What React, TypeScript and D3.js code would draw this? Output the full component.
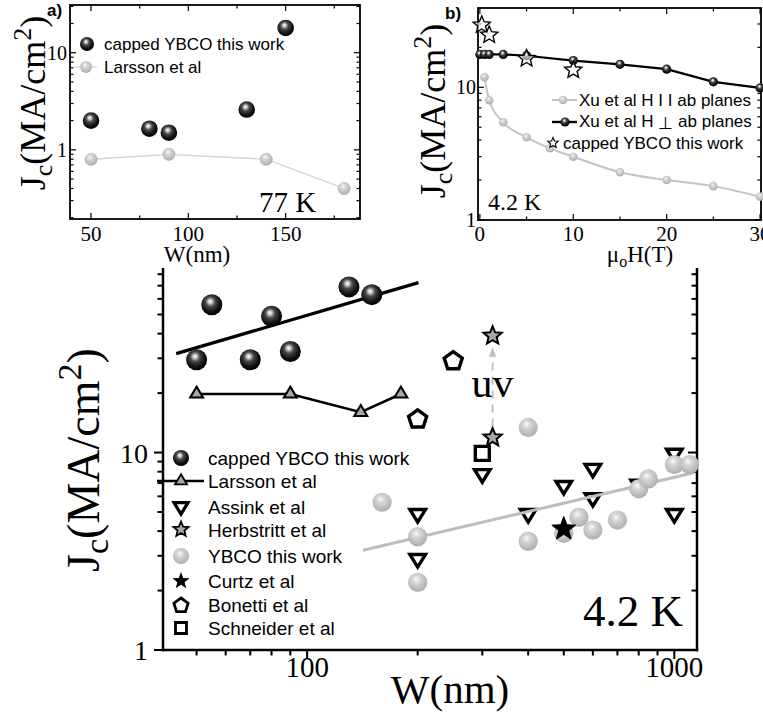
import React from 'react';
import * as d3 from 'd3';

// ---------- Panel a (77 K) ----------
const aCappedW = [50, 80, 90, 130, 150];
const aCappedJc = [2.0, 1.65, 1.5, 2.6, 18];
const aLarssonW = [50, 90, 140, 180];
const aLarssonJc = [0.8, 0.9, 0.8, 0.4];
const aXTicks = [50, 75, 100, 125, 150, 175];
const aXLabels = [50, 100, 150];

// ---------- Panel b (4.2 K, field) ----------
const bParH = [0.5, 1, 2.5, 5, 7.5, 10, 15, 20, 25, 30];
const bParJc = [11.9, 8.0, 5.45, 4.2, 3.47, 3.0, 2.29, 2.0, 1.8, 1.5];
const bPerpH = [0, 0.5, 1, 2.5, 5, 10, 15, 20, 25, 30];
const bPerpJc = [17.7, 17.7, 17.7, 17.7, 17.3, 15.9, 14.9, 13.7, 11.0, 9.9];
const bStarH = [0.2, 1, 5, 10];
const bStarJc = [29.5, 24.8, 16.5, 13.5];
const bXTicks = [0, 5, 10, 15, 20, 25, 30];
const bXLabels = [0, 10, 20, 30];

// ---------- Main panel (4.2 K) ----------
const cappedW = [50, 55, 70, 80, 90, 130, 150];
const cappedJc = [29.5, 56, 29.5, 49, 32.5, 69, 63];
const cappedFitW = [44, 201];
const cappedFitJc = [31.7, 72.5];
const larssonW = [50, 90, 140, 180];
const larssonJc = [19.8, 19.8, 16, 19.8];
const assinkW = [200, 200, 300, 400, 500, 600, 600, 800, 1000, 1000];
const assinkJc = [4.9, 2.9, 7.8, 4.9, 6.8, 8.3, 5.9, 6.9, 9.9, 4.9];
const herbW = [320, 320];
const herbJc = [11.9, 39];
const ybcoW = [160, 200, 200, 400, 400, 500, 550, 600, 700, 800, 850, 1000, 1100];
const ybcoJc = [5.6, 3.75, 2.2, 13.4, 3.55, 3.9, 4.7, 4.05, 4.55, 6.55, 7.35, 8.7, 8.7];
const ybcoFitW = [142, 1130];
const ybcoFitJc = [3.2, 7.9];
const curtzW = [500];
const curtzJc = [4.1];
const bonettiW = [200, 250];
const bonettiJc = [14.9, 29.4];
const schneiderW = [300];
const schneiderJc = [9.9];
const mainXLabels = [100, 1000];
const mainYLabels = [1, 10];

const legendMain = [
  'capped YBCO this work',
  'Larsson et al',
  'Assink et al',
  'Herbstritt et al',
  'YBCO this work',
  'Curtz et al',
  'Bonetti et al',
  'Schneider et al',
];

const SERIF = "'Liberation Serif','Times New Roman',serif";
const SANS = "'Liberation Sans',Arial,sans-serif";

function logTicks(lo: number, hi: number) {
  const out: { v: number; major: boolean }[] = [];
  for (let e = Math.floor(Math.log10(lo)) - 1; e <= Math.ceil(Math.log10(hi)); e++) {
    for (let m = 1; m <= 9; m++) {
      const v = +(m * Math.pow(10, e)).toPrecision(6);
      if (v >= lo * 0.999 && v <= hi * 1.001) out.push({ v, major: m === 1 });
    }
  }
  return out;
}

function starPath(R: number, ratio = 0.42) {
  const pts: string[] = [];
  for (let i = 0; i < 10; i++) {
    const r = i % 2 === 0 ? R : R * ratio;
    const a = -Math.PI / 2 + (i * Math.PI) / 5;
    pts.push(`${(r * Math.cos(a)).toFixed(2)},${(r * Math.sin(a)).toFixed(2)}`);
  }
  return 'M' + pts.join('L') + 'Z';
}
function polyPath(n: number, R: number) {
  const pts: string[] = [];
  for (let i = 0; i < n; i++) {
    const a = -Math.PI / 2 + (i * 2 * Math.PI) / n;
    pts.push(`${(R * Math.cos(a)).toFixed(2)},${(R * Math.sin(a)).toFixed(2)}`);
  }
  return 'M' + pts.join('L') + 'Z';
}
function triPath(w: number, h: number, down = false) {
  const s = down ? -1 : 1;
  return `M0,${(-s * h * 2) / 3}L${w / 2},${(s * h) / 3}L${-w / 2},${(s * h) / 3}Z`;
}
function sqPath(a: number) {
  return `M${-a / 2},${-a / 2}h${a}v${a}h${-a}Z`;
}

const Sphere = ({ x, y, r, gray }: { x: number; y: number; r: number; gray?: boolean }) => (
  <circle cx={x} cy={y} r={r} fill={gray ? 'url(#sphGray)' : 'url(#sphBlack)'} />
);

// ---------- Panel A ----------
function PanelA() {
  const L = 70, R = 360, T = 5, B = 219;
  const x = d3.scaleLinear().domain([39.2, 188.2]).range([L, R]);
  const y = d3.scaleLog().domain([0.194, 31]).range([B, T]);
  const yt = logTicks(0.194, 31);
  const line = d3.line<number>().x((_, i) => x(aLarssonW[i])).y((d) => y(d));
  return (
    <g>
      <rect x={L} y={T} width={R - L} height={B - T} fill="none" stroke="#000" strokeWidth={1.8} />
      {yt.map((t, i) => {
        const len = t.major ? 6 : 3.5;
        return (
          <g key={i}>
            <line x1={L} x2={L + len} y1={y(t.v)} y2={y(t.v)} stroke="#000" strokeWidth={1.2} />
            <line x1={R} x2={R - len} y1={y(t.v)} y2={y(t.v)} stroke="#000" strokeWidth={1.2} />
          </g>
        );
      })}
      {aXTicks.map((v, i) => {
        const len = v % 50 === 0 ? 6 : 3.5;
        return (
          <g key={i}>
            <line x1={x(v)} x2={x(v)} y1={B} y2={B - len} stroke="#000" strokeWidth={1.2} />
            <line x1={x(v)} x2={x(v)} y1={T} y2={T + len} stroke="#000" strokeWidth={1.2} />
          </g>
        );
      })}
      {aXLabels.map((v) => (
        <text key={v} x={x(v)} y={241} fontFamily={SERIF} fontSize={21} textAnchor="middle">{v}</text>
      ))}
      {[1, 10].map((v) => (
        <text key={v} x={67} y={y(v) + 7} fontFamily={SERIF} fontSize={20} textAnchor="end">{v}</text>
      ))}
      <path d={line(aLarssonJc) || ''} fill="none" stroke="#d4d4d4" strokeWidth={1.3} />
      {aLarssonW.map((w, i) => (
        <Sphere key={i} x={x(w)} y={y(aLarssonJc[i])} r={6.5} gray />
      ))}
      {aCappedW.map((w, i) => (
        <Sphere key={i} x={x(w)} y={y(aCappedJc[i])} r={8.3} />
      ))}
      {/* legend */}
      <Sphere x={87} y={44} r={7} />
      <text x={104} y={50} fontFamily={SANS} fontSize={17}>capped YBCO this work</text>
      <line x1={75} x2={97} y1={67} y2={67} stroke="#d4d4d4" strokeWidth={1.3} />
      <Sphere x={86} y={67} r={6} gray />
      <text x={104} y={73} fontFamily={SANS} fontSize={17}>Larsson et al</text>
      <text x={259} y={212} fontFamily={SERIF} fontSize={29}>77 K</text>
      <text x={47} y={16} fontFamily={SANS} fontSize={17} fontWeight="bold">a)</text>
      <text x={197} y={262} fontFamily={SERIF} fontSize={23} textAnchor="middle">W(nm)</text>
      <text transform="translate(45,103) rotate(-90)" fontFamily={SERIF} fontSize={36} textAnchor="middle">
        J<tspan fontSize={26} dy={7}>c</tspan>
        <tspan dy={-7}>(MA/cm</tspan>
        <tspan fontSize={26} dy={-14}>2</tspan>
        <tspan dy={14}>)</tspan>
      </text>
    </g>
  );
}

// ---------- Panel B ----------
function PanelB() {
  const L = 478, R = 761, T = 8, B = 220;
  const x = d3.scaleLinear().domain([-0.2, 30.1]).range([L, R]);
  const y = d3.scaleLog().domain([1, 39.6]).range([B, T]);
  const yt = logTicks(1, 39.6);
  const grayLine = d3
    .line<number>()
    .x((_, i) => x(bParH[i]))
    .y((d) => y(d))
    .curve(d3.curveMonotoneX);
  const blackLine = d3
    .line<number>()
    .x((_, i) => x(bPerpH[i]))
    .y((d) => y(d));
  return (
    <g>
      <rect x={L} y={T} width={R - L} height={B - T} fill="none" stroke="#000" strokeWidth={1.8} />
      {yt.map((t, i) => {
        const len = t.major ? 6 : 3.5;
        return (
          <g key={i}>
            <line x1={L} x2={L + len} y1={y(t.v)} y2={y(t.v)} stroke="#000" strokeWidth={1.2} />
            <line x1={R} x2={R - len} y1={y(t.v)} y2={y(t.v)} stroke="#000" strokeWidth={1.2} />
          </g>
        );
      })}
      {bXTicks.map((v, i) => {
        const len = v % 10 === 0 ? 6 : 3.5;
        return (
          <g key={i}>
            <line x1={x(v)} x2={x(v)} y1={B} y2={B - len} stroke="#000" strokeWidth={1.2} />
            <line x1={x(v)} x2={x(v)} y1={T} y2={T + len} stroke="#000" strokeWidth={1.2} />
          </g>
        );
      })}
      {bXLabels.map((v) => (
        <text key={v} x={x(v)} y={241} fontFamily={SERIF} fontSize={21} textAnchor="middle">{v}</text>
      ))}
      {[1, 10].map((v) => (
        <text key={v} x={476} y={y(v) + 7} fontFamily={SERIF} fontSize={20} textAnchor="end">{v}</text>
      ))}
      <path d={grayLine(bParJc) || ''} fill="none" stroke="#c4c4c4" strokeWidth={2} />
      {bParH.map((h, i) => (
        <Sphere key={i} x={x(h)} y={y(bParJc[i])} r={4.3} gray />
      ))}
      <path d={blackLine(bPerpJc) || ''} fill="none" stroke="#000" strokeWidth={2.2} />
      {bPerpH.map((h, i) => (
        <Sphere key={i} x={x(h)} y={y(bPerpJc[i])} r={4.6} />
      ))}
      {bStarH.map((h, i) => (
        <path key={i} d={starPath(9, 0.45)} transform={`translate(${x(h)},${y(bStarJc[i])})`} fill="#fff" fillOpacity={0.6} stroke="#000" strokeWidth={1.4} />
      ))}
      {/* legend */}
      <line x1={552} x2={577} y1={100} y2={100} stroke="#c4c4c4" strokeWidth={2} />
      <Sphere x={563} y={100} r={4.3} gray />
      <text x={579} y={106} fontFamily={SANS} fontSize={17}>Xu et al  H I I ab planes</text>
      <line x1={552} x2={577} y1={122} y2={122} stroke="#000" strokeWidth={2.4} />
      <Sphere x={565} y={122} r={4.6} />
      <text x={579} y={127} fontFamily={SANS} fontSize={17}>
        Xu et al H <tspan dy={2}>⊥</tspan><tspan dy={-2}> ab planes</tspan>
      </text>
      <path d={starPath(5.5, 0.45)} transform="translate(553,143)" fill="#fff" stroke="#000" strokeWidth={1.1} />
      <text x={563} y={149} fontFamily={SANS} fontSize={17}>capped YBCO this work</text>
      <text x={488} y={210} fontFamily={SERIF} fontSize={24}>4.2 K</text>
      <text x={445} y={19} fontFamily={SANS} fontSize={17} fontWeight="bold">b)</text>
      <text x={640} y={262} fontFamily={SERIF} fontSize={23} textAnchor="middle">
        μ<tspan fontSize={16} dy={5}>o</tspan>
        <tspan dy={-5}>H(T)</tspan>
      </text>
      <text transform="translate(445,111) rotate(-90)" fontFamily={SERIF} fontSize={36} textAnchor="middle">
        J<tspan fontSize={26} dy={7}>c</tspan>
        <tspan dy={-7}>(MA/cm</tspan>
        <tspan fontSize={26} dy={-14}>2</tspan>
        <tspan dy={14}>)</tspan>
      </text>
    </g>
  );
}

// ---------- Main ----------
function MainPanel() {
  const L = 163, R = 697, T = 268, B = 650;
  const x = d3.scaleLog().domain([40.5, 1153]).range([L, R]);
  const y = d3.scaleLog().domain([1, 86]).range([B, T]);
  const yt = logTicks(1, 86);
  const xt = logTicks(40.5, 1153);
  const mk = (ws: number[]) => d3.line<number>().x((_, i) => x(ws[i])).y((d) => y(d));
  const sw = 3.2;
  const herbX = x(herbW[0]);
  const yLow = y(herbJc[0]);
  const yHigh = y(herbJc[1]);
  const legY = [458, 481, 506.5, 529.5, 556, 581, 604.5, 628];
  const lx = 181;
  return (
    <g>
      {/* axes */}
      <line x1={L} x2={L} y1={T} y2={B + 1.2} stroke="#000" strokeWidth={2.5} />
      <line x1={R} x2={R} y1={T} y2={B + 1.2} stroke="#000" strokeWidth={2.5} />
      <line x1={L - 1.2} x2={R + 1.2} y1={B} y2={B} stroke="#000" strokeWidth={2.5} />
      {yt.map((t, i) => {
        const len = t.major ? 9 : 5.5;
        return (
          <g key={i}>
            <line x1={L - len} x2={L} y1={y(t.v)} y2={y(t.v)} stroke="#000" strokeWidth={2} />
            <line x1={R - len} x2={R} y1={y(t.v)} y2={y(t.v)} stroke="#000" strokeWidth={2} />
          </g>
        );
      })}
      {xt
        .filter((t) => x(t.v) > L + 2)
        .map((t, i) => {
          const len = t.major ? 9 : 5.5;
          return <line key={i} x1={x(t.v)} x2={x(t.v)} y1={B} y2={B + len} stroke="#000" strokeWidth={2} />;
        })}
      {mainXLabels.map((v) => (
        <text key={v} x={x(v)} y={677} fontFamily={SERIF} fontSize={29} textAnchor="middle">{v}</text>
      ))}
      {mainYLabels.map((v) => (
        <text key={v} x={148} y={y(v) + 10} fontFamily={SERIF} fontSize={28} textAnchor="end">{v}</text>
      ))}

      {/* capped YBCO fit + points */}
      <path d={mk(cappedFitW)(cappedFitJc) || ''} stroke="#000" strokeWidth={sw} fill="none" />
      {cappedW.map((w, i) => (
        <Sphere key={i} x={x(w)} y={y(cappedJc[i])} r={10.5} />
      ))}
      {/* Larsson */}
      <path d={mk(larssonW)(larssonJc) || ''} stroke="#000" strokeWidth={2.6} fill="none" />
      {larssonW.map((w, i) => (
        <path key={i} d={triPath(13, 11)} transform={`translate(${x(w)},${y(larssonJc[i])})`} fill="#a8a8a8" stroke="#000" strokeWidth={2} />
      ))}
      {/* Bonetti */}
      {bonettiW.map((w, i) => (
        <path key={i} d={polyPath(5, 9.5)} transform={`translate(${x(w)},${y(bonettiJc[i]) + 1})`} fill="#fff" stroke="#000" strokeWidth={3.4} strokeLinejoin="miter" />
      ))}
      {/* Schneider */}
      {schneiderW.map((w, i) => (
        <path key={i} d={sqPath(14)} transform={`translate(${x(w)},${y(schneiderJc[i])})`} fill="#fff" stroke="#000" strokeWidth={3.4} />
      ))}
      {/* Assink */}
      {assinkW.map((w, i) => (
        <path key={i} d={triPath(15.5, 12.5, true)} transform={`translate(${x(w)},${y(assinkJc[i])})`} fill="#fff" stroke="#000" strokeWidth={3.4} strokeLinejoin="miter" />
      ))}
      {/* YBCO fit + points */}
      <path d={mk(ybcoFitW)(ybcoFitJc) || ''} stroke="#bdbdbd" strokeWidth={3} fill="none" />
      {ybcoW.map((w, i) => (
        <Sphere key={i} x={x(w)} y={y(ybcoJc[i])} r={9.6} gray />
      ))}
      {/* Curtz */}
      {curtzW.map((w, i) => (
        <path key={i} d={starPath(12.5, 0.42)} transform={`translate(${x(w)},${y(curtzJc[i])})`} fill="#000" stroke="#000" strokeWidth={1} />
      ))}
      {/* UV arrow */}
      <line x1={herbX} x2={herbX} y1={yLow - 11} y2={yHigh + 20} stroke="#c0c0c0" strokeWidth={2} strokeDasharray="8,6" />
      <path d={`M${herbX},${yHigh + 11}L${herbX + 3.5},${yHigh + 21}L${herbX - 3.5},${yHigh + 21}Z`} fill="#c0c0c0" />
      <text x={herbX} y={397} fontFamily={SERIF} fontSize={42} textAnchor="middle">uv</text>
      {/* Herbstritt */}
      {herbW.map((w, i) => (
        <path key={i} d={starPath(9.5, 0.45)} transform={`translate(${x(w)},${y(herbJc[i])})`} fill="#a8a8a8" stroke="#000" strokeWidth={2} />
      ))}

      {/* legend */}
      <Sphere x={lx} y={legY[0]} r={8} />
      <line x1={157} x2={204} y1={legY[1]} y2={legY[1]} stroke="#000" strokeWidth={2.4} />
      <path d={triPath(12, 10)} transform={`translate(${lx},${legY[1]})`} fill="#a8a8a8" stroke="#000" strokeWidth={1.8} />
      <path d={triPath(14, 11.5, true)} transform={`translate(${lx},${legY[2]})`} fill="#fff" stroke="#000" strokeWidth={3.2} />
      <path d={starPath(8, 0.45)} transform={`translate(${lx},${legY[3]})`} fill="#a8a8a8" stroke="#000" strokeWidth={1.8} />
      <Sphere x={lx} y={legY[4]} r={8} gray />
      <path d={starPath(9, 0.42)} transform={`translate(${lx},${legY[5]})`} fill="#000" />
      <path d={polyPath(5, 7.5)} transform={`translate(${lx},${legY[6] + 1})`} fill="#fff" stroke="#000" strokeWidth={2.8} />
      <path d={sqPath(11)} transform={`translate(${lx},${legY[7]})`} fill="#fff" stroke="#000" strokeWidth={2.8} />
      {legendMain.map((s, i) => (
        <text key={s} x={208} y={legY[i] + 7} fontFamily={SANS} fontSize={19}>{s}</text>
      ))}

      <text x={583} y={626} fontFamily={SERIF} fontSize={45}>4.2 K</text>
      <text x={450} y={703} fontFamily={SERIF} fontSize={41} textAnchor="middle">W(nm)</text>
      <text transform="translate(99,460) rotate(-90)" fontFamily={SERIF} fontSize={46} textAnchor="middle">
        J<tspan fontSize={34} dy={9}>c</tspan>
        <tspan dy={-9}>(MA/cm</tspan>
        <tspan fontSize={34} dy={-18}>2</tspan>
        <tspan dy={18}>)</tspan>
      </text>
    </g>
  );
}

export default function App() {
  return (
    <svg
      width={763}
      height={717}
      viewBox="0 0 763 717"
      style={{ position: 'absolute', left: 0, top: 0, background: '#fff' }}
    >
      <defs>
        <radialGradient id="sphBlack" cx="0.45" cy="0.4" r="0.6" fx="0.42" fy="0.33">
          <stop offset="0" stopColor="#ffffff" />
          <stop offset="0.13" stopColor="#d8d8d8" />
          <stop offset="0.38" stopColor="#4a4a4a" />
          <stop offset="0.75" stopColor="#111" />
          <stop offset="1" stopColor="#000" />
        </radialGradient>
        <radialGradient id="sphGray" cx="0.45" cy="0.4" r="0.65" fx="0.42" fy="0.33">
          <stop offset="0" stopColor="#fafafa" />
          <stop offset="0.3" stopColor="#d6d6d6" />
          <stop offset="1" stopColor="#a9a9a9" />
        </radialGradient>
      </defs>
      <rect x={0} y={0} width={763} height={717} fill="#fff" />
      <MainPanel />
      <PanelA />
      <PanelB />
    </svg>
  );
}
